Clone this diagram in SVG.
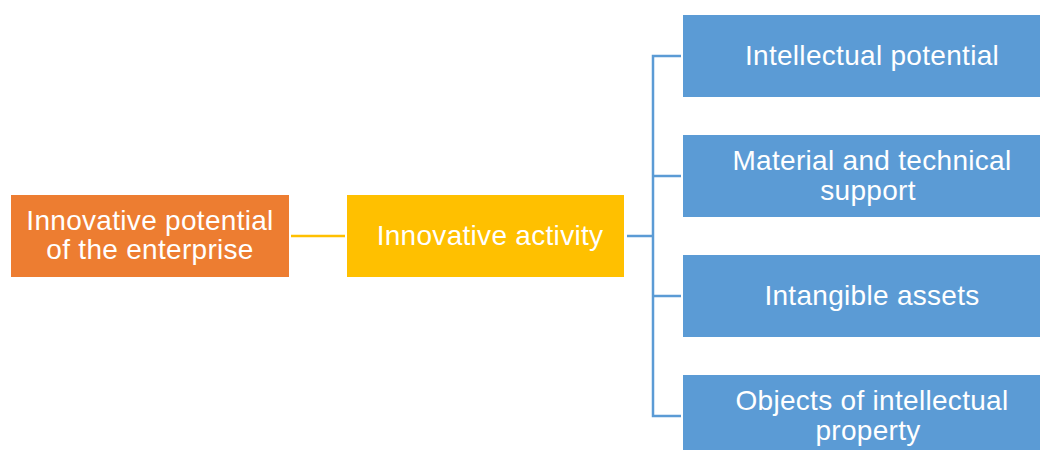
<svg xmlns="http://www.w3.org/2000/svg" width="1040" height="450" viewBox="0 0 1040 450">
<style>
text{font-family:"Liberation Sans",Arial,sans-serif;font-size:28px;letter-spacing:0.3px;fill:#fff;text-anchor:middle}
.blue{fill:#5B9BD5}
.bl{stroke:#5B9BD5;stroke-width:2.5;fill:none}
</style>
<rect width="1040" height="450" fill="#fff"/>
<g id="connectors">
<line x1="291" y1="236" x2="345" y2="236" stroke="#FFC000" stroke-width="2.5"/>
<path class="bl" d="M627 236H653M681 56H653V416H681M653 176H681M653 296H681"/>
</g>
<g id="node-potential">
<rect x="11" y="195" width="278" height="82" fill="#ED7D31"/>
<text x="150" y="230">Innovative potential</text>
<text x="150" y="259">of the enterprise</text>
</g>
<g id="node-activity">
<rect x="347" y="195" width="277" height="82" fill="#FFC000"/>
<text x="490" y="245">Innovative activity</text>
</g>
<g id="node-intellectual">
<rect class="blue" x="683" y="15" width="380" height="82"/>
<text x="872" y="65">Intellectual potential</text>
</g>
<g id="node-material">
<rect class="blue" x="683" y="135" width="380" height="82"/>
<text x="872" y="170">Material and technical</text>
<text x="868" y="200">support</text>
</g>
<g id="node-intangible">
<rect class="blue" x="683" y="255" width="380" height="82"/>
<text x="872" y="305">Intangible assets</text>
</g>
<g id="node-objects">
<rect class="blue" x="683" y="375" width="380" height="82"/>
<text x="872" y="410">Objects of intellectual</text>
<text x="868" y="440">property</text>
</g>
</svg>
